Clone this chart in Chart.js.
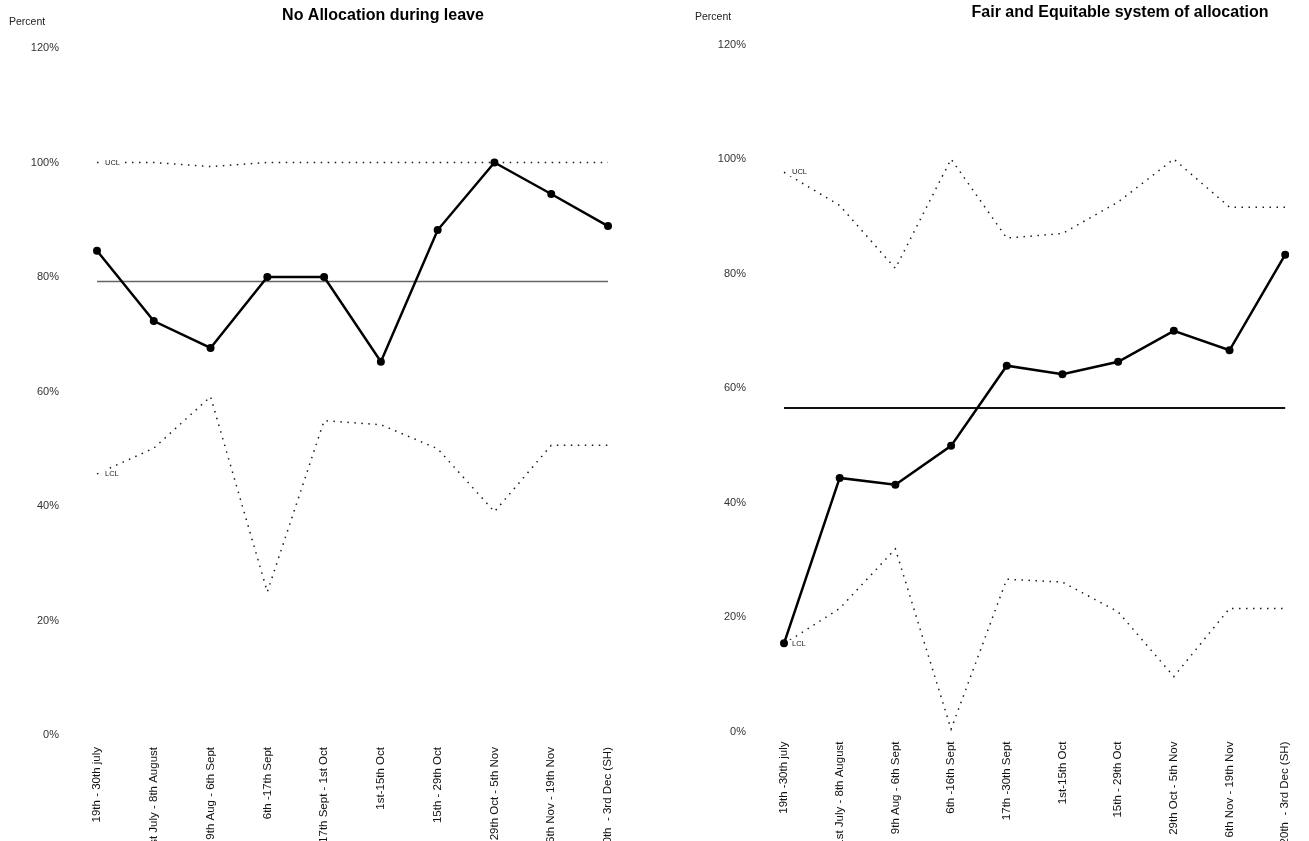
<!DOCTYPE html>
<html>
<head>
<meta charset="utf-8">
<title>Allocation control charts</title>
<script src="https://cdn.jsdelivr.net/npm/chart.js@4.4.1/dist/chart.umd.min.js"></script>
<style>
  html, body { margin: 0; padding: 0; background: #fff; overflow: hidden; }
  canvas { position: absolute; top: 0; }
  #leave-chart { left: 0; }
  #fair-chart { left: 654px; }
</style>
</head>
<body>
<canvas id="leave-chart" width="654" height="841"></canvas>
<canvas id="fair-chart" width="655" height="841"></canvas>
<script>
// periods (the start of each label runs off the bottom of the picture)
const leavePeriods = ['19th - 30th july', '31st July - 8th August', '9th Aug - 6th Sept', '6th -17th Sept',
  '17th Sept - 1st Oct', '1st-15th Oct', '15th - 29th Oct', '29th Oct - 5th Nov', '6th Nov - 19th Nov',
  '20th  - 3rd Dec (SH)'];
const fairPeriods = ['19th -30th july', '31st July - 8th August', '9th Aug - 6th Sept', '6th -16th Sept',
  '17th -30th Sept', '1st-15th Oct', '15th - 29th Oct', '29th Oct - 5th Nov', '6th Nov - 19th Nov',
  '20th  - 3rd Dec (SH)'];

// percent values
const leavePercent = [84.6, 72.3, 67.6, 80.0, 80.0, 65.2, 88.2, 100, 94.5, 88.9];
const leaveCentre = [79.2, 79.2, 79.2, 79.2, 79.2, 79.2, 79.2, 79.2, 79.2, 79.2];
const leaveUcl = [100, 100, 99.3, 100, 100, 100, 100, 100, 100, 100];
const leaveLcl = [45.6, 50.1, 59.1, 25.0, 54.9, 54.2, 50.0, 39.0, 50.6, 50.6];

const fairPercent = [15.4, 44.3, 43.1, 49.9, 63.9, 62.4, 64.6, 70.0, 66.6, 83.3];
const fairCentre = [56.5, 56.5, 56.5, 56.5, 56.5, 56.5, 56.5, 56.5, 56.5, 56.5];
const fairUcl = [97.7, 91.9, 80.9, 100, 86.2, 87.0, 92.5, 100, 91.6, 91.6];
const fairLcl = [15.3, 21.5, 31.9, 0.4, 26.6, 26.1, 20.9, 9.6, 21.5, 21.5];

const percentTicks = [0, 20, 40, 60, 80, 100, 120];

const FONT = '"Liberation Sans", Arial, Helvetica, sans-serif';
Chart.defaults.font.family = FONT;

// title and the "Percent" caption
const headings = {
  id: 'headings',
  afterDraw(chart, args, opts) {
    const { ctx } = chart;
    ctx.save();
    ctx.textBaseline = 'middle';
    ctx.fillStyle = '#000';
    ctx.font = `bold 16px ${FONT}`;
    ctx.textAlign = 'center';
    ctx.fillText(opts.title, opts.titleX, opts.titleY);
    ctx.font = `10.5px ${FONT}`;
    ctx.textAlign = 'left';
    ctx.fillStyle = '#222';
    ctx.fillText('Percent', opts.captionX, opts.captionY);
    ctx.restore();
  },
};

// small UCL / LCL tags at the start of the limit lines
const limitTags = {
  id: 'limitTags',
  afterDatasetsDraw(chart) {
    const { ctx } = chart;
    chart.data.datasets.forEach((ds, i) => {
      if (!ds.tag) return;
      const pt = chart.getDatasetMeta(i).data[0];
      ctx.save();
      ctx.font = `7.5px ${FONT}`;
      const w = ctx.measureText(ds.tag).width;
      ctx.fillStyle = '#fff';
      ctx.fillRect(pt.x + 4, pt.y - 4, w + 8, 8);
      ctx.fillStyle = '#222';
      ctx.textBaseline = 'middle';
      ctx.fillText(ds.tag, pt.x + 8, pt.y);
      ctx.restore();
    });
  },
};

const limitLine = (data, tag, colour) => ({
  data,
  tag,
  borderColor: colour,
  borderWidth: 1.5,
  borderDash: [1.5, 5.5],
  pointRadius: 0,
  tension: 0,
});

const controlChart = (canvas, cfg) => new Chart(canvas.getContext('2d'), {
  type: 'line',
  data: {
    labels: cfg.labels,
    datasets: [
      {
        data: cfg.values,
        borderColor: '#000',
        backgroundColor: '#000',
        borderWidth: 2.5,
        pointRadius: 4,
        pointBorderWidth: 0,
        tension: 0,
      },
      {
        data: cfg.centre,
        borderColor: cfg.centreColour,
        borderWidth: cfg.centreWidth,
        pointRadius: 0,
      },
      limitLine(cfg.ucl, 'UCL', '#1a1a1a'),
      limitLine(cfg.lcl, 'LCL', '#1a1a1a'),
    ],
  },
  options: {
    responsive: false,
    animation: false,
    layout: { padding: { left: 0, right: cfg.padRight, top: cfg.top, bottom: 0 } },
    plugins: {
      legend: { display: false },
      tooltip: { enabled: false },
      headings: cfg.headings,
    },
    scales: {
      x: {
        offset: false,
        grid: { display: false, drawTicks: false },
        border: { display: false },
        ticks: {
          autoSkip: false,
          minRotation: 90,
          maxRotation: 90,
          padding: cfg.labelPad,
          color: '#111',
          font: { size: 11.5 },
        },
        afterFit: (scale) => { scale.height = cfg.axisHeight; },
      },
      y: {
        min: 0,
        max: 120,
        grid: { display: false, drawTicks: false },
        border: { display: false },
        afterBuildTicks: (scale) => { scale.ticks = percentTicks.map(v => ({ value: v })); },
        ticks: {
          padding: 38,
          color: '#333',
          font: { size: 11 },
          callback: v => `${v}%`,
        },
        afterFit: (scale) => { scale.width = cfg.axisWidth; },
      },
    },
  },
  plugins: [headings, limitTags],
});

controlChart(document.getElementById('leave-chart'), {
  labels: leavePeriods,
  values: leavePercent,
  centre: leaveCentre,
  ucl: leaveUcl,
  lcl: leaveLcl,
  centreColour: '#666',
  centreWidth: 1.5,
  axisWidth: 97,
  padRight: 46,
  top: 48,
  axisHeight: 106,
  labelPad: 12,
  headings: { title: 'No Allocation during leave', titleX: 383, titleY: 16, captionX: 9, captionY: 22 },
});

controlChart(document.getElementById('fair-chart'), {
  labels: fairPeriods,
  values: fairPercent,
  centre: fairCentre,
  ucl: fairUcl,
  lcl: fairLcl,
  centreColour: '#111',
  centreWidth: 2,
  axisWidth: 130,
  padRight: 14,
  top: 42.5,
  axisHeight: 109.5,
  labelPad: 10,
  headings: { title: 'Fair and Equitable system of allocation', titleX: 466, titleY: 13, captionX: 41, captionY: 17 },
});
</script>
</body>
</html>
